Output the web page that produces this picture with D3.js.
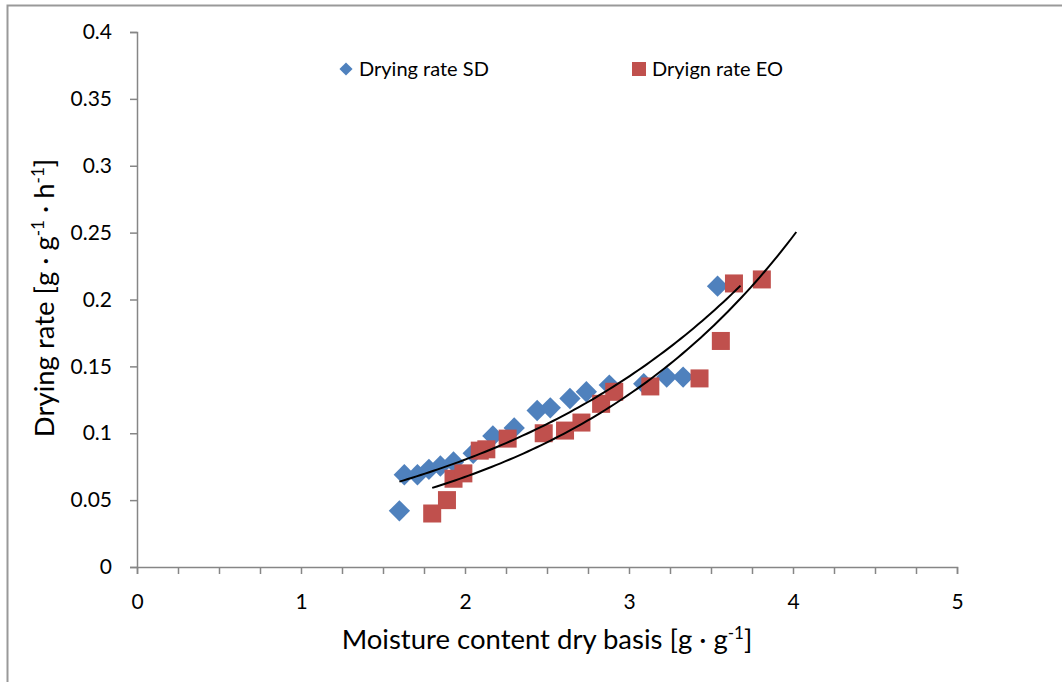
<!DOCTYPE html>
<html>
<head>
<meta charset="utf-8">
<script src="https://cdn.jsdelivr.net/npm/d3@7"></script>
<style>
  body { margin: 0; background: #fff; }
  text { font-family: Lato, "Open Sans", sans-serif; fill: #000; }
</style>
</head>
<body>
<div id="chart"></div>
<script>
// data
const sdMoisture = [1.60, 1.63, 1.71, 1.78, 1.85, 1.93, 2.05, 2.17, 2.30, 2.44, 2.52, 2.64, 2.74, 2.88, 3.09, 3.23, 3.33, 3.54];
const sdRate = [0.042, 0.069, 0.069, 0.073, 0.0755, 0.0785, 0.085, 0.098, 0.104, 0.117, 0.119, 0.126, 0.131, 0.136, 0.137, 0.142, 0.142, 0.210];

const eoMoisture = [1.80, 1.89, 1.93, 1.99, 2.09, 2.13, 2.26, 2.48, 2.61, 2.71, 2.83, 2.91, 3.13, 3.43, 3.56, 3.64, 3.81];
const eoRate = [0.040, 0.050, 0.066, 0.070, 0.087, 0.088, 0.096, 0.100, 0.102, 0.108, 0.122, 0.131, 0.135, 0.141, 0.169, 0.212, 0.215];

const xTicks = [0, 1, 2, 3, 4, 5];
const yTicks = [0, 0.05, 0.1, 0.15, 0.2, 0.25, 0.3, 0.35, 0.4];

const width = 1062;
const height = 682;

const svg = d3.select("#chart").append("svg")
  .attr("width", width)
  .attr("height", height);

// outer chart border
svg.append("rect")
  .attr("x", 7.5).attr("y", 5.5)
  .attr("width", width).attr("height", height)
  .attr("fill", "none")
  .attr("stroke", "#999")
  .attr("stroke-width", 2);

const x = d3.scaleLinear().domain([0, 5]).range([137, 957]);
const y = d3.scaleLinear().domain([0, 0.4]).range([567, 32]);

const axisColor = "#868686";

// y axis
const yAxis = svg.append("g")
  .attr("transform", `translate(${x(0)},0)`)
  .call(d3.axisLeft(y).tickValues(yTicks).tickFormat(d => +d.toFixed(2)).tickSize(7).tickPadding(18));
yAxis.select(".domain").attr("stroke", axisColor).attr("stroke-width", 1.5);
yAxis.selectAll(".tick line").attr("stroke", axisColor).attr("stroke-width", 1.5);
yAxis.selectAll(".tick text").style("font-size", "21px");

// x axis: minor ticks every 0.25
const xMinor = d3.range(0, 5.001, 0.25);
const xAxis = svg.append("g")
  .attr("transform", `translate(0,${y(0)})`)
  .call(d3.axisBottom(x).tickValues(xMinor).tickFormat(d => xTicks.includes(d) ? d : "").tickSize(7).tickPadding(20));
xAxis.select(".domain").attr("stroke", axisColor).attr("stroke-width", 1.5);
xAxis.selectAll(".tick line").attr("stroke", axisColor).attr("stroke-width", 1.5);
xAxis.selectAll(".tick text").style("font-size", "21px");

// exponential trendlines (least squares on ln y), like the spreadsheet
function expFit(xs, ys) {
  const ly = ys.map(Math.log);
  const mx = d3.mean(xs), my = d3.mean(ly);
  const b = d3.sum(xs, (v, i) => (v - mx) * (ly[i] - my)) / d3.sum(xs, v => (v - mx) ** 2);
  const a = Math.exp(my - b * mx);
  return v => a * Math.exp(b * v);
}

const line = d3.line().x(d => x(d[0])).y(d => y(d[1]));

function drawTrend(xs, ys, forward) {
  const f = expFit(xs, ys);
  const x0 = d3.min(xs), x1 = d3.max(xs) + forward;
  const pts = d3.range(x0, x1 + 1e-9, (x1 - x0) / 80).map(v => [v, f(v)]);
  svg.append("path")
    .attr("d", line(pts))
    .attr("fill", "none")
    .attr("stroke", "#000")
    .attr("stroke-width", 2);
}

// markers
const sdData = sdMoisture.map((m, i) => [m, sdRate[i]]);
const eoData = eoMoisture.map((m, i) => [m, eoRate[i]]);

svg.append("g").selectAll("path")
  .data(sdData)
  .join("path")
  .attr("d", d3.symbol(d3.symbolDiamond2, 290))
  .attr("transform", d => `translate(${x(d[0])},${y(d[1])})`)
  .attr("fill", "#4F81BD");

svg.append("g").selectAll("rect")
  .data(eoData)
  .join("rect")
  .attr("x", d => x(d[0]) - 9)
  .attr("y", d => y(d[1]) - 9)
  .attr("width", 18).attr("height", 18)
  .attr("fill", "#C0504D");

drawTrend(sdMoisture, sdRate, 0.14);
drawTrend(eoMoisture, eoRate, 0.21);

// legend
svg.append("path")
  .attr("d", d3.symbol(d3.symbolDiamond2, 110))
  .attr("transform", "translate(346,69)")
  .attr("fill", "#4F81BD");
svg.append("text").attr("x", 359).attr("y", 76).style("font-size", "20px").text("Drying rate SD");

svg.append("rect").attr("x", 632).attr("y", 62).attr("width", 14).attr("height", 14).attr("fill", "#C0504D");
svg.append("text").attr("x", 652).attr("y", 76).style("font-size", "20px").text("Dryign rate EO");

// axis titles
const xTitle = svg.append("text")
  .attr("x", 547).attr("y", 649)
  .attr("text-anchor", "middle")
  .style("font-size", "27.5px");
xTitle.append("tspan").text("Moisture content dry basis [g · g");
xTitle.append("tspan").attr("dy", -10).style("font-size", "17px").text("-1");
xTitle.append("tspan").attr("dy", 10).text("]");

const yTitle = svg.append("text")
  .attr("transform", "translate(54,298) rotate(-90)")
  .attr("text-anchor", "middle")
  .style("font-size", "27.5px");
yTitle.append("tspan").text("Drying rate [g · g");
yTitle.append("tspan").attr("dy", -10).style("font-size", "17px").text("-1");
yTitle.append("tspan").attr("dy", 10).text(" · h");
yTitle.append("tspan").attr("dy", -10).style("font-size", "17px").text("-1");
yTitle.append("tspan").attr("dy", 10).text("]");
</script>
</body>
</html>
